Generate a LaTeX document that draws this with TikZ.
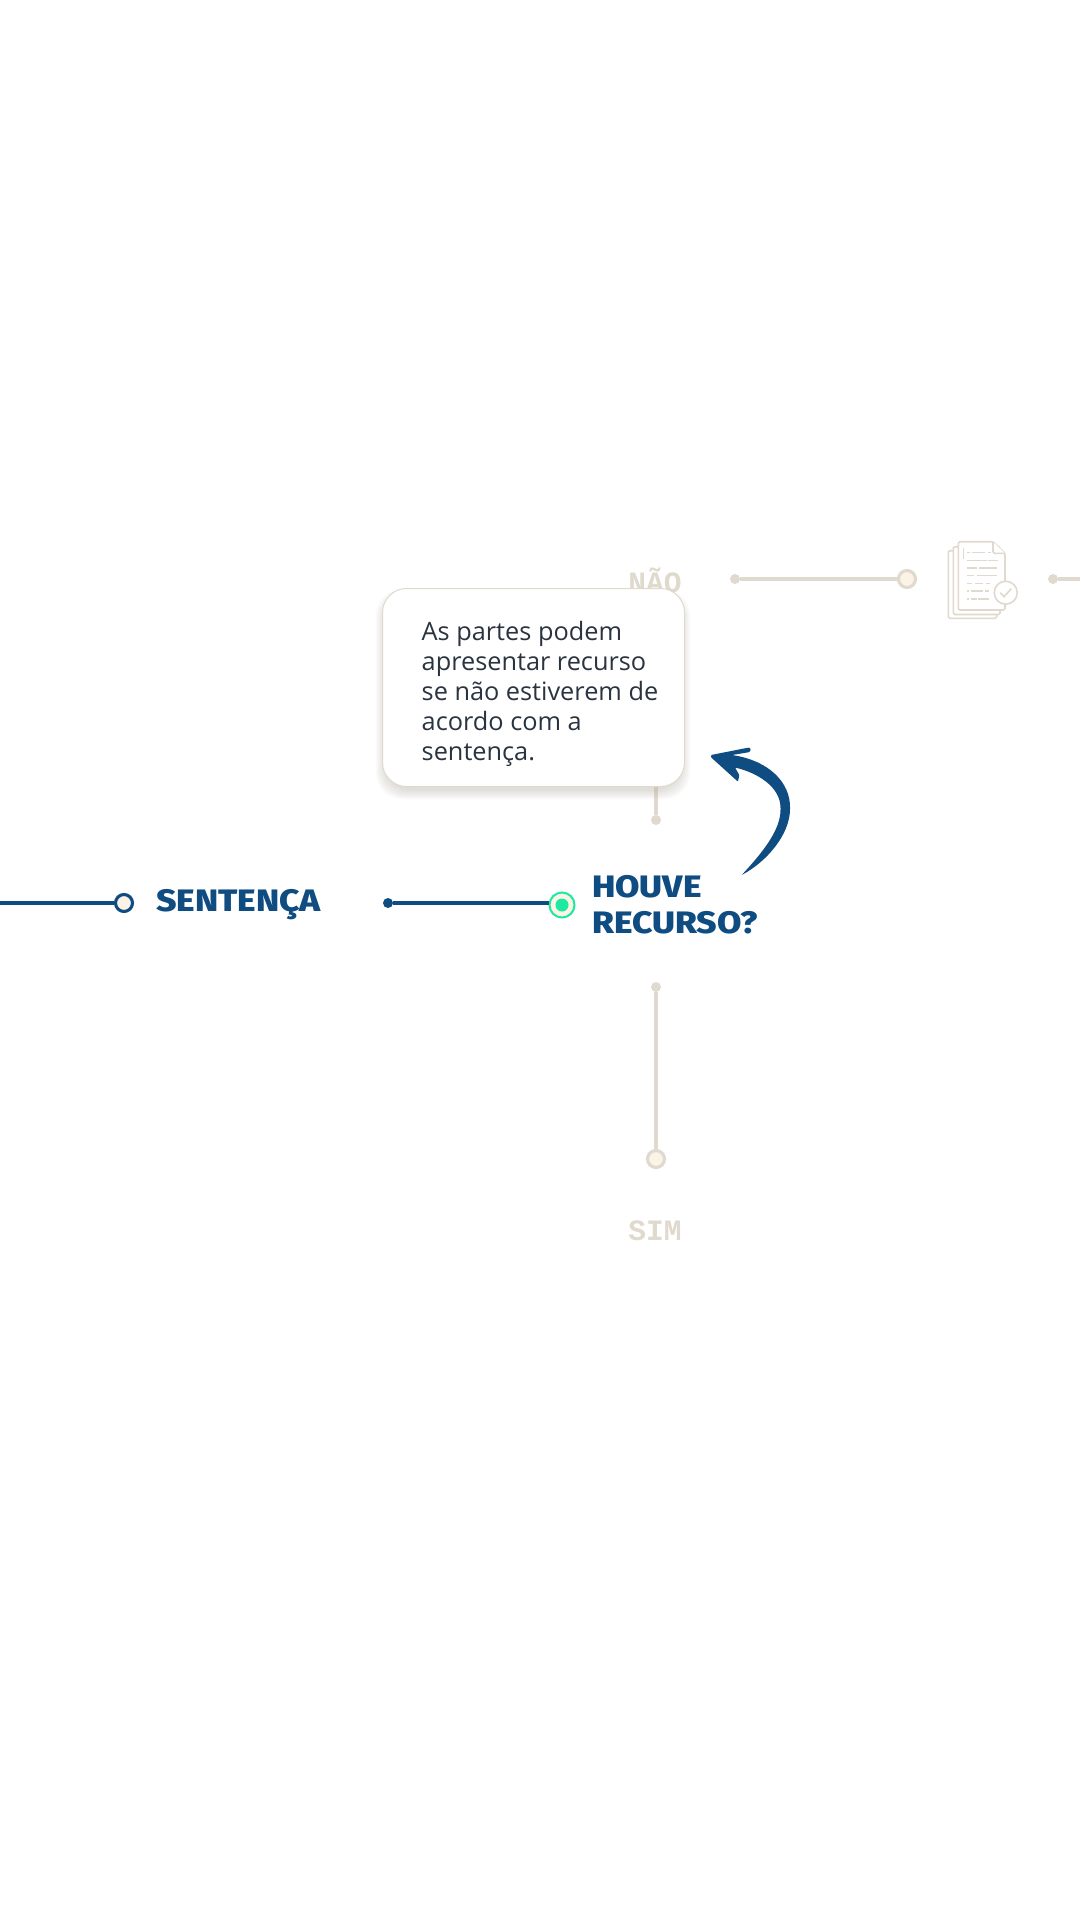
\documentclass[tikz,border=0pt]{standalone}
\usepackage{fontspec}
\usepackage{xcolor}
\setmainfont{Open Sans}
\newfontfamily\headfont[FakeStretch=1.14]{Fira Sans ExtraBold}
\newfontfamily\codefont[BoldFont={Liberation Mono Bold}]{Liberation Mono}
\definecolor{navy}{HTML}{0F4C81}
\definecolor{sand}{HTML}{E0DACE}
\definecolor{cream}{HTML}{FBF3E6}
\definecolor{mint}{HTML}{1DE9A0}
\definecolor{ink}{HTML}{2A3440}
\tikzset{
  ring/.style={circle,draw,line width=3.1pt,fill=cream,minimum size=17pt,inner sep=0pt},
  pin/.style={circle,minimum size=10pt,inner sep=0pt},
  title/.style={text=navy,inner sep=0pt,align=left,font=\headfont\fontsize{31}{36}\selectfont},
  choice/.style={text=sand,inner sep=0pt,font=\codefont\bfseries\fontsize{29.5}{30}\selectfont},
  card/.style={draw=sand,line width=1pt,fill=white,rounded corners=24pt,minimum width=302pt,minimum height=198pt,inner sep=0pt},
  page/.style={draw=sand,line width=1.6pt,fill=white,rounded corners=1.5pt,line join=round},
  textline/.style={draw=sand,line width=1.5pt}
}
\begin{document}
\begin{tikzpicture}[x=1pt,y=-1pt]
\useasboundingbox [fill=white] (0,0) rectangle (1080,1920);
% main line
\coordinate (start) at (0,903);
\node [ring,draw=navy] (sentring) at (124,903) {};
\node [title,anchor=base west] (sentenca) at (156,911) {SENTENÇA};
\node [pin,fill=navy] (sentpin) at (388,903) {};
\node [circle,draw=mint,line width=2pt,fill=cream,minimum size=25pt,inner sep=0pt] (houvering) at (562,905) {};
\node [circle,fill=mint,minimum size=13pt,inner sep=0pt] (houvedot) at (562,905) {};
\node [title,anchor=north west] (houve) at (592,875) {HOUVE\\RECURSO?};
\draw [navy,line width=3.1pt] (start) -- (sentring);
\draw [navy,line width=3.1pt] (sentpin) -- (sentpin -| houvering.west);
% sim
\node [pin,fill=sand] (simpin) at (656,987) {};
\node [ring,draw=sand] (simring) at (656,1159) {};
\node [choice,anchor=base] (sim) at (655,1240) {SIM};
\draw [sand,line width=3.1pt] (simpin) -- (simring);
% nao
\node [choice,anchor=base] (nao) at (655,592) {NÃO};
\node [pin,fill=sand] (naopin) at (735,579) {};
\node [ring,draw=sand] (naoring) at (907,579) {};
\node [pin,fill=sand] (docpin) at (1053,579) {};
\coordinate (stop) at (1080,579);
\coordinate (hidden) at (656,760);
\node [pin,fill=sand] (uppin) at (656,820) {};
\draw [sand,line width=3.1pt] (naopin) -- (naoring);
\draw [sand,line width=3.1pt] (docpin) -- (stop);
\draw [sand,line width=3.1pt] (hidden) -- (uppin);
% document
\draw [page] (948.3,550.7) rectangle (996.7,618.3);
\draw [page] (953.3,546.7) rectangle (1000,614.5);
\draw [page] (958.3,541.7) -- (993,541.7) -- (1005,553.3) -- (1005,610) -- (958.3,610) -- cycle;
\draw [page] (993,541.7) -- (993,553.3) -- (1005,553.3);
\draw [textline] (963.3,548.3) -- (963.3,559.3);
\draw [textline] (966.7,552.7) -- (970,552.7) (971.7,552.7) -- (985,552.7) (988.3,552.7) -- (990.7,552.7);
\draw [textline] (966.7,560.3) -- (986.7,560.3) (988.3,560.3) -- (998.3,560.3);
\draw [textline] (966.7,568) -- (976.7,568) (979.3,568) -- (997.3,568);
\draw [textline] (966.7,575.7) -- (974,575.7) (977.3,575.7) -- (997.3,575.7);
\draw [textline] (966.7,583.3) -- (971.7,583.3) (975,583.3) -- (983.3,583.3) (985.7,583.3) -- (990,583.3);
\draw [textline] (966.7,591) -- (969,591) (970.7,591) -- (982.7,591) (985,591) -- (989,591);
\draw [textline] (966.7,599) -- (969,599) (970.7,599) -- (977.3,599) (978.3,599) -- (989,599);
\node [circle,draw=sand,line width=1.6pt,fill=white,minimum size=23pt,inner sep=0pt] (docseal) at (1005.7,592.7) {};
\draw [sand,line width=1.6pt] (1000.3,592.7) -- (1004,596.7) -- (1011.3,588.7);
% card
\foreach \s in {1,...,10}
  \fill [black!20!sand,opacity=0.045,rounded corners=26pt] (382+\s-7,588+\s) rectangle (684-\s+7,786-\s+14);
\node [card,anchor=north west] (card) at (382,588) {};
\node [anchor=north west,inner sep=0pt,align=left,text=ink,font=\fontsize{25.3}{30}\selectfont] (cardtext) at (421.5,621) {As partes podem\\apresentar recurso\\se não estiverem de\\acordo com a\\sentença.};
% arrow
\fill [navy,rounded corners=1pt] (741.7,875) .. controls (766,862) and (790,835) .. (790,808) .. controls (790,783) and (770,761) .. (732,755) -- (750,752) -- (750.7,748.5) -- (749,747.5) -- (711,755) -- (710.7,757) -- (738,781.7) -- (739.3,775) -- (735,767.5) .. controls (758,773) and (780,787) .. (780.5,808) .. controls (781,830) and (762,853) .. (741.7,875) -- cycle;
\end{tikzpicture}
\end{document}
